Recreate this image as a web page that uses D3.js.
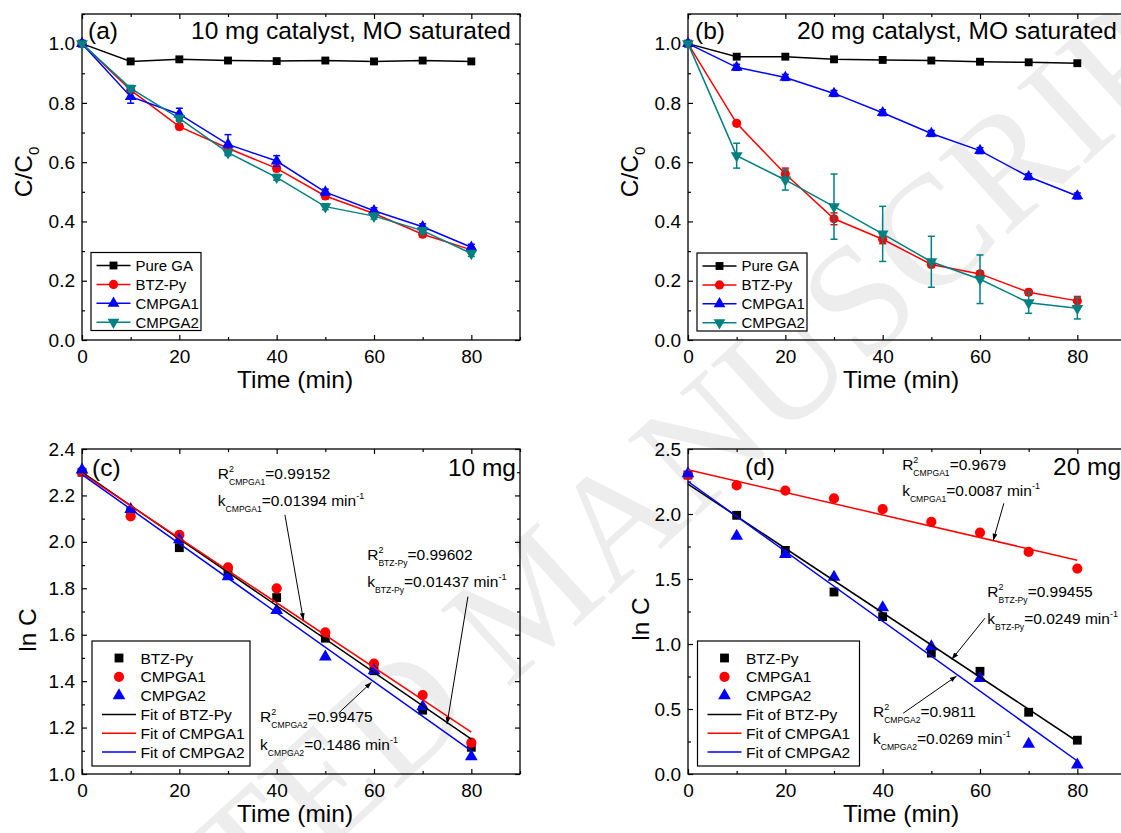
<!DOCTYPE html>
<html><head><meta charset="utf-8">
<script src="https://cdn.jsdelivr.net/npm/d3@7"></script>
<style>
body{margin:0;background:#fff;overflow:hidden;}
svg text{font-family:Arial,"Liberation Sans",sans-serif;fill:#000;}
</style></head><body>
<svg id="chart" width="1121" height="833"></svg>
<script>
// ---------------- data ----------------
const timeMin=[0,10,20,30,40,50,60,70,80];
const xTicks=[0,20,40,60,80];
const xMinorTicks=[10,30,50,70,90];
const abYTicks=[0,0.2,0.4,0.6,0.8,1.0];
const abYMinor=[0.1,0.3,0.5,0.7,0.9,1.1];
const cYTicks=[1.0,1.2,1.4,1.6,1.8,2.0,2.2,2.4];
const cYMinor=[1.1,1.3,1.5,1.7,1.9,2.1,2.3];
const dYTicks=[0,0.5,1.0,1.5,2.0,2.5];
const dYMinor=[0.25,0.75,1.25,1.75,2.25];

const abSeriesNames=["Pure GA","BTZ-Py","CMPGA1","CMPGA2"];
// panel (a): 10 mg catalyst, C/C0
const aPureGA=[1.0,0.940,0.947,0.943,0.941,0.943,0.940,0.943,0.940];
const aBTZPy =[1.0,0.843,0.720,0.647,0.579,0.486,0.427,0.357,0.304];
const aCMPGA1=[1.0,0.821,0.762,0.660,0.604,0.499,0.436,0.382,0.313];
const aCMPGA2=[1.0,0.849,0.748,0.632,0.549,0.450,0.418,0.369,0.292];
const aErrPureGA=[0,0.004,0.004,0.004,0.004,0.004,0.004,0.004,0.004];
const aErrBTZPy =[0,0.01,0.01,0.01,0.01,0.01,0.01,0.01,0.01];
const aErrCMPGA1=[0,0.022,0.02,0.033,0.018,0.01,0.01,0.01,0.01];
const aErrCMPGA2=[0,0.01,0.01,0.01,0.01,0.01,0.01,0.01,0.01];
// panel (b): 20 mg catalyst, C/C0
const bPureGA=[1.0,0.956,0.956,0.947,0.945,0.943,0.939,0.937,0.934];
const bBTZPy =[1.0,0.731,0.560,0.409,0.340,0.255,0.223,0.161,0.132];
const bCMPGA1=[1.0,0.920,0.886,0.832,0.767,0.697,0.639,0.551,0.486];
const bCMPGA2=[1.0,0.622,0.540,0.450,0.358,0.264,0.205,0.126,0.107];
const bErrPureGA=[0,0.004,0.004,0.004,0.004,0.004,0.004,0.004,0.004];
const bErrBTZPy =[0,0.008,0.02,0.02,0.015,0.01,0.01,0.01,0.015];
const bErrCMPGA1=[0,0.01,0.01,0.01,0.01,0.01,0.01,0.01,0.01];
const bErrCMPGA2=[0,0.042,0.034,0.11,0.093,0.086,0.082,0.036,0.036];

const cdSeriesNames=["BTZ-Py","CMPGA1","CMPGA2"];
const cdFitNames=["Fit of BTZ-Py","Fit of CMPGA1","Fit of CMPGA2"];
// panel (c): 10 mg, ln C
const cBTZPy =[2.30,2.13,1.975,1.865,1.76,1.585,1.445,1.275,1.115];
const cCMPGA1=[2.30,2.11,2.03,1.89,1.80,1.61,1.475,1.34,1.135];
const cCMPGA2=[2.31,2.14,2.01,1.85,1.705,1.505,1.445,1.29,1.075];
const cFitBTZPy =[[0,2.30],[80,1.15]];
const cFitCMPGA1=[[0,2.295],[80,1.18]];
const cFitCMPGA2=[[0,2.29],[80,1.10]];
// panel (d): 20 mg, ln C
const dBTZPy =[2.30,1.99,1.72,1.40,1.21,0.93,0.79,0.475,0.26];
const dCMPGA1=[2.30,2.22,2.18,2.12,2.037,1.94,1.857,1.708,1.58];
const dCMPGA2=[2.31,1.83,1.69,1.515,1.28,0.98,0.735,0.23,0.07];
const dFitBTZPy =[[0,2.23],[80,0.25]];
const dFitCMPGA1=[[0,2.34],[80,1.645]];
const dFitCMPGA2=[[0,2.25],[80,0.10]];

// annotations: [R2 text pos], [k text pos], arrow from, arrow to  (data units)
const cAnnots=[
 {sub:"CMPGA1",r2:"=0.99152",k:"=0.01394",rPos:[27.9,2.27],kPos:[27.9,2.155],from:[41.7,2.116],to:[45.5,1.663]},
 {sub:"BTZ-Py",r2:"=0.99602",k:"=0.01437",rPos:[58.6,1.922],kPos:[58.6,1.807],from:[79.3,1.764],to:[75.0,1.215]},
 {sub:"CMPGA2",r2:"=0.99475",k:"=0.1486",rPos:[36.6,1.225],kPos:[36.6,1.103],from:[52.7,1.262],to:[59.5,1.395]}
];
const dAnnots=[
 {sub:"CMPGA1",r2:"=0.9679",k:"=0.0087",rPos:[44.0,2.338],kPos:[44.0,2.138],from:[64.9,2.082],to:[62.7,1.795]},
 {sub:"BTZ-Py",r2:"=0.99455",k:"=0.0249",rPos:[61.5,1.364],kPos:[61.5,1.154],from:[61.0,1.198],to:[54.2,0.882]},
 {sub:"CMPGA2",r2:"=0.9811",k:"=0.0269",rPos:[38.0,0.441],kPos:[38.0,0.231],from:[44.2,0.467],to:[55.2,0.754]}
];

const colBlack="#000000", colRed="#ff0000", colBlue="#0000ff", colTeal="#008080";

// ---------------- drawing ----------------
const svg=d3.select("#chart");
svg.append("rect").attr("width",1121).attr("height",833).attr("fill","#fff");

// watermark
svg.append("text")
  .attr("transform","translate(566,635) rotate(-42.2)")
  .attr("text-anchor","middle")
  .style("font-family","'Liberation Serif','DejaVu Serif',serif")
  .style("font-size","157px")
  .style("fill","#ededed")
  .text("ACCEPTED MANUSCRIPT");

const defs=svg.append("defs");
defs.append("marker").attr("id","arrow").attr("viewBox","0 0 10 10")
  .attr("refX",10).attr("refY",5).attr("markerWidth",7).attr("markerHeight",7)
  .attr("markerUnits","userSpaceOnUse").attr("orient","auto")
  .append("path").attr("d","M0,1.5 L10,5 L0,8.5 Z").attr("fill","#000");

function shapePath(shape,size){
  if(shape==="square") return d3.symbol(d3.symbolSquare,size)();
  if(shape==="circle") return d3.symbol(d3.symbolCircle,size)();
  return d3.symbol(d3.symbolTriangle,size)();
}
function drawMarker(g,shape,size,px,py,color){
  const p=g.append("path").attr("d",shapePath(shape,size)).attr("fill",color);
  if(shape==="down") p.attr("transform",`translate(${px},${py}) rotate(180)`);
  else p.attr("transform",`translate(${px},${py})`);
}

function panel(cfg){
  const g=svg.append("g");
  const x=d3.scaleLinear().domain([0,90]).range([cfg.x0,cfg.x1]);
  const y=d3.scaleLinear().domain(cfg.yDomain).range([cfg.yBot,cfg.yTop]);
  const fmtY=d3.format(cfg.yFmt);
  const tickStyle=s=>{s.select(".domain").remove(); s.selectAll("line").attr("stroke","#000").attr("stroke-width",1.2);
     s.selectAll("text").style("font-size","19px").style("font-family","Arial,'Liberation Sans',sans-serif").attr("fill","#000");};
  g.append("g").attr("transform",`translate(0,${cfg.yBot})`)
    .call(d3.axisBottom(x).tickValues(xTicks).tickSize(-5).tickSizeOuter(0).tickPadding(9.5).tickFormat(d3.format("d"))).call(tickStyle);
  g.append("g").attr("transform",`translate(0,${cfg.yBot})`)
    .call(d3.axisBottom(x).tickValues(xMinorTicks).tickSize(-3).tickSizeOuter(0).tickFormat("")).call(tickStyle);
  g.append("g").attr("transform",`translate(0,${cfg.yTop})`)
    .call(d3.axisTop(x).tickValues(xTicks).tickSize(-5).tickSizeOuter(0).tickFormat("")).call(tickStyle);
  g.append("g").attr("transform",`translate(0,${cfg.yTop})`)
    .call(d3.axisTop(x).tickValues(xMinorTicks).tickSize(-3).tickSizeOuter(0).tickFormat("")).call(tickStyle);
  g.append("g").attr("transform",`translate(${cfg.x0},0)`)
    .call(d3.axisLeft(y).tickValues(cfg.yTicks).tickSize(-5).tickSizeOuter(0).tickPadding(7).tickFormat(fmtY)).call(tickStyle);
  g.append("g").attr("transform",`translate(${cfg.x0},0)`)
    .call(d3.axisLeft(y).tickValues(cfg.yMinor).tickSize(-3).tickSizeOuter(0).tickFormat("")).call(tickStyle);
  g.append("g").attr("transform",`translate(${cfg.x1},0)`)
    .call(d3.axisRight(y).tickValues(cfg.yTicks).tickSize(-5).tickSizeOuter(0).tickFormat("")).call(tickStyle);
  g.append("g").attr("transform",`translate(${cfg.x1},0)`)
    .call(d3.axisRight(y).tickValues(cfg.yMinor).tickSize(-3).tickSizeOuter(0).tickFormat("")).call(tickStyle);
  g.append("rect").attr("x",cfg.x0).attr("y",cfg.yTop).attr("width",cfg.x1-cfg.x0).attr("height",cfg.yBot-cfg.yTop)
    .attr("fill","none").attr("stroke","#000").attr("stroke-width",1.3);
  // axis titles
  g.append("text").attr("x",(cfg.x0+cfg.x1)/2-6).attr("y",cfg.yBot+48).attr("text-anchor","middle")
    .style("font-size","24.5px").text("Time (min)");
  const yt=g.append("text").attr("transform",`translate(${cfg.yLabelX},${cfg.yLabelY}) rotate(-90)`).attr("text-anchor","middle")
    .style("font-size","24.5px");
  if(cfg.yTitle==="C/C0"){ yt.append("tspan").text("C/C"); yt.append("tspan").attr("dy",7).style("font-size","15px").text("0"); }
  else yt.text(cfg.yTitle);
  return {g,x,y};
}

function errorBars(g,x,y,vals,errs,color){
  timeMin.forEach((t,i)=>{
    if(!errs[i]) return;
    const px=x(t), y1=y(vals[i]-errs[i]), y2=y(vals[i]+errs[i]);
    g.append("line").attr("x1",px).attr("x2",px).attr("y1",y1).attr("y2",y2).attr("stroke",color).attr("stroke-width",1.5);
    [y1,y2].forEach(yy=>g.append("line").attr("x1",px-3.5).attr("x2",px+3.5).attr("y1",yy).attr("y2",yy).attr("stroke",color).attr("stroke-width",1.5));
  });
}

function linePanel(P,series){
  const line=d3.line().x((d,i)=>P.x(timeMin[i])).y(d=>P.y(d));
  series.forEach(s=>{
    P.g.append("path").datum(s.vals).attr("d",line).attr("fill","none").attr("stroke",s.color).attr("stroke-width",1.5);
    errorBars(P.g,P.x,P.y,s.vals,s.errs,s.color);
    s.vals.forEach((v,i)=>drawMarker(P.g,s.shape,s.size,P.x(timeMin[i]),P.y(v),s.color));
  });
}

function legendAB(g,x0,yTop,series){
  g.append("rect").attr("x",x0).attr("y",yTop).attr("width",110).attr("height",78)
    .attr("fill","#fff").attr("stroke","#000").attr("stroke-width",1.2);
  series.forEach((s,i)=>{
    const yy=yTop+13+i*18.9;
    g.append("line").attr("x1",x0+5.5).attr("x2",x0+39.5).attr("y1",yy).attr("y2",yy).attr("stroke",s.color).attr("stroke-width",1.5);
    drawMarker(g,s.shape,s.size,x0+22.5,yy,s.color);
    g.append("text").attr("x",x0+44.5).attr("y",yy).attr("dy","0.36em").style("font-size","15px").text(s.name);
  });
}

function legendCD(g,x0,yTop,width,series,fits){
  g.append("rect").attr("x",x0).attr("y",yTop).attr("width",width).attr("height",125)
    .attr("fill","#fff").attr("stroke","#000").attr("stroke-width",1.2);
  series.forEach((s,i)=>{
    const yy=yTop+17+i*18.8;
    drawMarker(g,s.shape,s.size,x0+27,yy,s.color);
    g.append("text").attr("x",x0+48.5).attr("y",yy).attr("dy","0.36em").style("font-size","15.5px").text(s.name);
  });
  fits.forEach((f,i)=>{
    const yy=yTop+17+(i+3)*18.8;
    g.append("line").attr("x1",x0+10).attr("x2",x0+44).attr("y1",yy).attr("y2",yy).attr("stroke",f.color).attr("stroke-width",1.5);
    g.append("text").attr("x",x0+48.5).attr("y",yy).attr("dy","0.36em").style("font-size","15.5px").text(f.name);
  });
}

function annotate(P,a){
  const rx=P.x(a.rPos[0]), ry=P.y(a.rPos[1]);
  const t=P.g.append("text").attr("x",rx).attr("y",ry).style("font-size","15.5px");
  t.append("tspan").text("R");
  t.append("tspan").attr("dy",-7).style("font-size","9px").text("2");
  t.append("tspan").attr("dx",-5).attr("dy",13).style("font-size","8.6px").text(a.sub);
  t.append("tspan").attr("dy",-6).text(a.r2);
  const kx=P.x(a.kPos[0]), ky=P.y(a.kPos[1]);
  const k=P.g.append("text").attr("x",kx).attr("y",ky).style("font-size","15.5px");
  k.append("tspan").text("k");
  k.append("tspan").attr("dy",6).style("font-size","8.6px").text(a.sub);
  k.append("tspan").attr("dy",-6).text(a.k+" min");
  k.append("tspan").attr("dy",-7).style("font-size","9px").text("-1");
  P.g.append("line").attr("x1",P.x(a.from[0])).attr("y1",P.y(a.from[1]))
    .attr("x2",P.x(a.to[0])).attr("y2",P.y(a.to[1])).attr("stroke","#000").attr("stroke-width",1)
    .attr("marker-end","url(#arrow)");
}

function scatterPanel(P,series,fits){
  series.forEach(s=>{
    s.vals.forEach((v,i)=>drawMarker(P.g,s.shape,s.size,P.x(timeMin[i]),P.y(v),s.color));
  });
  fits.forEach(f=>{
    P.g.append("line").attr("x1",P.x(f.pts[0][0])).attr("y1",P.y(f.pts[0][1]))
      .attr("x2",P.x(f.pts[1][0])).attr("y2",P.y(f.pts[1][1])).attr("stroke",f.color).attr("stroke-width",1.5);
  });
}

// Panel (a)
const PA=panel({x0:82,x1:520,yTop:14,yBot:340,yDomain:[0,1.1],yTicks:abYTicks,yMinor:abYMinor,yFmt:".1f",
  yTitle:"C/C0",yLabelX:32,yLabelY:172});
const serA=[
 {name:abSeriesNames[0],vals:aPureGA,errs:aErrPureGA,color:colBlack,shape:"square",size:62},
 {name:abSeriesNames[1],vals:aBTZPy,errs:aErrBTZPy,color:colRed,shape:"circle",size:66},
 {name:abSeriesNames[2],vals:aCMPGA1,errs:aErrCMPGA1,color:colBlue,shape:"up",size:60},
 {name:abSeriesNames[3],vals:aCMPGA2,errs:aErrCMPGA2,color:colTeal,shape:"down",size:60}];
linePanel(PA,serA);
legendAB(PA.g,91,252.5,serA);
PA.g.append("text").attr("x",88).attr("y",39).style("font-size","24.5px").text("(a)");
PA.g.append("text").attr("x",511).attr("y",39).attr("text-anchor","end").style("font-size","24.5px").text("10 mg catalyst, MO saturated");

// Panel (b)
const PB=panel({x0:688,x1:1126,yTop:14,yBot:340,yDomain:[0,1.1],yTicks:abYTicks,yMinor:abYMinor,yFmt:".1f",
  yTitle:"C/C0",yLabelX:638,yLabelY:172});
const serB=[
 {name:abSeriesNames[0],vals:bPureGA,errs:bErrPureGA,color:colBlack,shape:"square",size:62},
 {name:abSeriesNames[1],vals:bBTZPy,errs:bErrBTZPy,color:colRed,shape:"circle",size:66},
 {name:abSeriesNames[2],vals:bCMPGA1,errs:bErrCMPGA1,color:colBlue,shape:"up",size:60},
 {name:abSeriesNames[3],vals:bCMPGA2,errs:bErrCMPGA2,color:colTeal,shape:"down",size:60}];
linePanel(PB,serB);
legendAB(PB.g,697,253,serB);
PB.g.append("text").attr("x",695).attr("y",39).style("font-size","24.5px").text("(b)");
PB.g.append("text").attr("x",1117).attr("y",39).attr("text-anchor","end").style("font-size","24.5px").text("20 mg catalyst, MO saturated");

// Panel (c)
const PC=panel({x0:82,x1:520,yTop:449,yBot:774,yDomain:[1.0,2.4],yTicks:cYTicks,yMinor:cYMinor,yFmt:".1f",
  yTitle:"ln C",yLabelX:36,yLabelY:630});
const serC=[
 {name:cdSeriesNames[0],vals:cBTZPy,color:colBlack,shape:"square",size:78},
 {name:cdSeriesNames[1],vals:cCMPGA1,color:colRed,shape:"circle",size:82},
 {name:cdSeriesNames[2],vals:cCMPGA2,color:colBlue,shape:"up",size:70}];
const fitC=[
 {name:cdFitNames[0],pts:cFitBTZPy,color:colBlack},
 {name:cdFitNames[1],pts:cFitCMPGA1,color:colRed},
 {name:cdFitNames[2],pts:cFitCMPGA2,color:colBlue}];
scatterPanel(PC,serC,fitC);
cAnnots.forEach(a=>annotate(PC,a));
legendCD(PC.g,92,641,158,serC,fitC);
PC.g.append("text").attr("x",92).attr("y",476).style("font-size","24.5px").text("(c)");
PC.g.append("text").attr("x",516).attr("y",476).attr("text-anchor","end").style("font-size","24.5px").text("10 mg");

// Panel (d)
const PD=panel({x0:688,x1:1126,yTop:449,yBot:774,yDomain:[0,2.5],yTicks:dYTicks,yMinor:dYMinor,yFmt:".1f",
  yTitle:"ln C",yLabelX:649,yLabelY:619});
const serD=[
 {name:cdSeriesNames[0],vals:dBTZPy,color:colBlack,shape:"square",size:78},
 {name:cdSeriesNames[1],vals:dCMPGA1,color:colRed,shape:"circle",size:82},
 {name:cdSeriesNames[2],vals:dCMPGA2,color:colBlue,shape:"up",size:70}];
const fitD=[
 {name:cdFitNames[0],pts:dFitBTZPy,color:colBlack},
 {name:cdFitNames[1],pts:dFitCMPGA1,color:colRed},
 {name:cdFitNames[2],pts:dFitCMPGA2,color:colBlue}];
scatterPanel(PD,serD,fitD);
dAnnots.forEach(a=>annotate(PD,a));
legendCD(PD.g,697.5,641,162,serD,fitD);
PD.g.append("text").attr("x",745).attr("y",475).style("font-size","24.5px").text("(d)");
PD.g.append("text").attr("x",1053).attr("y",475).style("font-size","24.5px").text("20 mg");
</script>
</body></html>
